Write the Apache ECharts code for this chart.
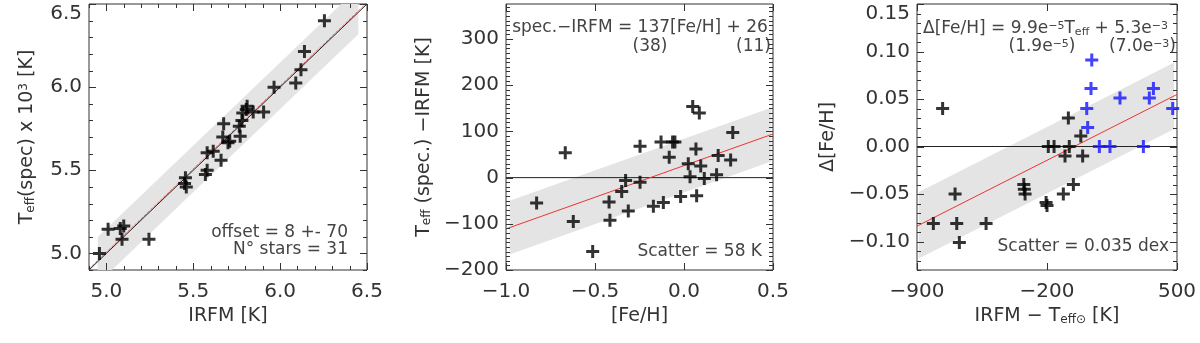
<!DOCTYPE html>
<html>
<head>
<meta charset="utf-8">
<script src="https://cdn.jsdelivr.net/npm/echarts@6/dist/echarts.min.js"></script>
<style>
  html, body { margin: 0; padding: 0; background: #fff; }
  #wrap { position: relative; width: 1200px; height: 343px; }
  .panel { position: absolute; top: 0; width: 400px; height: 343px; }
</style>
</head>
<body>
<div id="wrap">
  <div id="p1" class="panel" style="left:0px"></div>
  <div id="p2" class="panel" style="left:400px"></div>
  <div id="p3" class="panel" style="left:800px"></div>
</div>
<script>
// ---- panel 1 : spectroscopic vs IRFM temperature (10^3 K)
const p1Irfm = [4.96, 5.01, 5.08, 5.10, 5.09, 5.245, 5.455, 5.45, 5.46, 5.57, 5.58,
                5.58, 5.615, 5.66, 5.675, 5.67, 5.70, 5.71, 5.77, 5.765, 5.78, 5.785,
                5.805, 5.81, 5.845, 5.905, 5.965, 6.09, 6.12, 6.14, 6.255];
const p1Spec = [5.00, 5.145, 5.15, 5.165, 5.085, 5.085, 5.455, 5.42, 5.40, 5.475, 5.50,
                5.605, 5.615, 5.56, 5.78, 5.70, 5.665, 5.675, 5.705, 5.765, 5.80, 5.845,
                5.865, 5.885, 5.85, 5.85, 6.00, 6.025, 6.105, 6.215, 6.40];
const p1Ticks = [5.0, 5.5, 6.0, 6.5];
const p1Offset = 0.008;   // 8 K
const p1Band = 0.14;      // 2 x 70 K
const p1BandX = [4.95, 6.45];

// ---- panel 2 : (spec - IRFM) vs [Fe/H]
const p2FeH  = [-0.828, -0.667, -0.622, -0.513, -0.421, -0.416, -0.35, -0.328, -0.313,
                -0.247, -0.247, -0.172, -0.116, -0.129, -0.083, -0.064, -0.051, -0.019,
                0.024, 0.034, 0.049, 0.071, 0.067, 0.086, 0.094, 0.114, 0.183, 0.192,
                0.262, 0.274];
const p2Diff = [-55, 54, -95, -160, -53, -92, -30, -6, -72, 68, -10, -62, -54, 77, 44,
                77, 77, -41, 30, 2, 154, -39, 62, 140, 25, -2, 6, 48, 38, 98];
const p2XTicks = [-1.0, -0.5, 0.0, 0.5];
const p2YTicks = [-200, -100, 0, 100, 200, 300];
const p2Slope = 137, p2SlopeErr = 38, p2Icpt = 26, p2IcptErr = 11, p2Scatter = 58;

// ---- panel 3 : delta [Fe/H] vs IRFM - Teff(sun)
const p3DtBlack = [-762, -812, -695, -686, -672, -528, -325, -322, -318, -205, -200,
                   -193, -162, -112, -103, -85, -80, -58, -18, -8];
const p3DfBlack = [0.040, -0.081, -0.050, -0.081, -0.101, -0.081, -0.040, -0.045,
                   -0.050, -0.059, -0.062, 0.0, 0.0, -0.050, -0.010, 0.030, 0.0,
                   -0.040, 0.011, -0.010];
const p3DtBlue = [14, 19, 37, 41, 82, 139, 193, 319, 351, 373, 477];
const p3DfBlue = [0.040, 0.020, 0.061, 0.091, 0.0, 0.0, 0.051, 0.0, 0.051, 0.061, 0.040];
const p3XTicks = [-900, -200, 500];
const p3YTicks = [-0.10, -0.05, 0.00, 0.05, 0.10, 0.15];
const p3Slope = 9.9e-5, p3Icpt = 5.3e-3, p3Scatter = 0.035;

const FONT = 'DejaVu Sans';
const INK = '#333';
const SOFT = '#444';
const RED = '#ee3333';
const BAND = '#e4e4e4';
const PLUS = 'path://M5,0 H8 V5 H13 V8 H8 V13 H5 V8 H0 V5 H5 Z';
const MINUS = '\u2212';

function steps(a, b, s) {
    const out = [];
    for (let v = a; v <= b + s / 2; v += s) out.push(+v.toFixed(6));
    return out;
}

function signed(v, d) {
    const t = Math.abs(v).toFixed(d);
    return v < 0 ? MINUS + t : t;
}

const rich = {
    sub: { fontSize: 12, lineHeight: 10, verticalAlign: 'bottom', fontFamily: FONT },
    sup: { fontSize: 12, lineHeight: 10, verticalAlign: 'top', fontFamily: FONT }
};

/**
 * labelled axis (ticks are drawn by frameTicks)
 */
function labelAxis(dim, min, max, majors, fmt, name, nameGap, extra) {
    return {
        type: 'value', min: min, max: max,
        position: dim === 'x' ? 'bottom' : 'left',
        splitLine: { show: false },
        axisLine: { show: false, onZero: false },
        axisTick: { show: false },
        axisLabel: Object.assign({
            customValues: majors, formatter: fmt,
            fontFamily: FONT, fontSize: 20, color: INK,
            margin: dim === 'x' ? 12 : 7
        }, extra || {}),
        name: name, nameLocation: 'middle', nameGap: nameGap,
        nameTextStyle: { fontFamily: FONT, fontSize: 19, color: INK, rich: rich }
    };
}

/**
 * IDL-style inward ticks on all four sides, placed through the axis scales
 */
function frameTicks(xMajor, xMinor, yMajor, yMinor, yRef, xRef) {
    const MAJ = 7, MIN = 4;
    return {
        type: 'custom', clip: false, z: 8, silent: true,
        data: [[xRef, yRef]],
        renderItem: function (params, api) {
            const cs = params.coordSys;
            const top = cs.y, bot = cs.y + cs.height, lft = cs.x, rgt = cs.x + cs.width;
            const kids = [];
            const seg = (x1, y1, x2, y2) => kids.push({
                type: 'line',
                shape: { x1: x1, y1: y1, x2: x2, y2: y2 },
                style: { stroke: INK, lineWidth: 1 }
            });
            const vx = (vals, len) => vals.forEach(v => {
                const px = Math.round(api.coord([v, yRef])[0]) + 0.5;
                seg(px, bot, px, bot - len);
                seg(px, top, px, top + len);
            });
            const vy = (vals, len) => vals.forEach(v => {
                const py = Math.round(api.coord([xRef, v])[1]) + 0.5;
                seg(lft, py, lft + len, py);
                seg(rgt, py, rgt - len, py);
            });
            vx(xMinor, MIN); vx(xMajor, MAJ);
            vy(yMinor, MIN); vy(yMajor, MAJ);
            return { type: 'group', children: kids };
        }
    };
}

function bandSeries(x0, x1, f, half) {
    return {
        type: 'custom', clip: true, z: 1,
        data: [[x0, x1]],
        renderItem: function (params, api) {
            const pts = [
                api.coord([x0, f(x0) - half]), api.coord([x1, f(x1) - half]),
                api.coord([x1, f(x1) + half]), api.coord([x0, f(x0) + half])
            ];
            return { type: 'polygon', shape: { points: pts }, style: { fill: BAND } };
        }
    };
}

function lineSeries(xs, f, color, type) {
    return {
        type: 'line', z: 3, symbol: 'none', clip: true,
        data: xs.map(x => [x, f(x)]),
        lineStyle: { color: color, width: 1, type: type || 'solid' }
    };
}

function crossSeries(xs, ys, color) {
    return {
        type: 'scatter', z: 5, symbol: PLUS, symbolSize: 13, clip: true,
        itemStyle: { color: color },
        data: xs.map((x, i) => [x, ys[i]])
    };
}

function note(x, y, text, align) {
    return {
        type: 'text', x: x, y: y,
        style: {
            text: text, align: align, verticalAlign: 'middle',
            fontFamily: FONT, fontSize: 17, fill: SOFT,
            rich: {
                sub: { fontSize: 11, lineHeight: 8, verticalAlign: 'bottom', fontFamily: FONT },
                sup: { fontSize: 11, lineHeight: 8, verticalAlign: 'top', fontFamily: FONT }
            }
        }
    };
}

function makePanel(id, gridLeft, gridWidth, xAxis, yAxis, series, notes) {
    const chart = echarts.init(document.getElementById(id));
    chart.setOption({
        animation: false,
        grid: { left: gridLeft, top: 4, width: gridWidth, height: 266, show: true, borderColor: INK },
        xAxis: xAxis,
        yAxis: yAxis,
        series: series,
        graphic: notes
    });
    return chart;
}

const f1 = x => x + p1Offset;
const f2 = x => p2Slope * x + p2Icpt;
const f3 = x => p3Slope * x + p3Icpt;

// panel 1 (page x 0)
makePanel('p1', 89, 278,
    labelAxis('x', 4.9, 6.5, p1Ticks, v => v.toFixed(1), 'IRFM [K]', 37),
    labelAxis('y', 4.9, 6.5, p1Ticks, v => v.toFixed(1),
        'T{sub|eff}(spec) x 10{sup|3} [K]', 52, { verticalAlignMaxLabel: 'top' }),
    [
        bandSeries(p1BandX[0], p1BandX[1], f1, p1Band),
        lineSeries([4.9, 6.5], x => x, '#222'),
        lineSeries([4.9, 6.5], f1, RED, 'dotted'),
        crossSeries(p1Irfm, p1Spec, '#000'),
        frameTicks(p1Ticks, steps(4.9, 6.5, 0.1), p1Ticks, steps(4.9, 6.5, 0.1), 5.5, 5.5)
    ],
    [
        note(348, 233, 'offset = ' + p1Offset * 1000 + ' +- ' + p1Band * 500, 'right'),
        note(348, 250, 'N\u00b0 stars = ' + p1Irfm.length, 'right')
    ]
);

// panel 2 (page x 400)
makePanel('p2', 106, 267,
    labelAxis('x', -1.0, 0.5, p2XTicks, v => signed(v, 1), '[Fe/H]', 37),
    labelAxis('y', -200, 376, p2YTicks, v => signed(v, 0),
        'T{sub|eff} (spec.) ' + MINUS + 'IRFM [K]', 54),
    [
        bandSeries(-0.98, 0.49, f2, p2Scatter),
        lineSeries([-1.0, 0.5], () => 0, '#222'),
        lineSeries([-1.0, 0.5], f2, RED),
        crossSeries(p2FeH, p2Diff, '#000'),
        frameTicks(p2XTicks, [], p2YTicks, steps(-200, 370, 10), 0, 0)
    ],
    [
        note(240, 28, 'spec.' + MINUS + 'IRFM = ' + p2Slope + '[Fe/H] + ' + p2Icpt, 'center'),
        note(250, 47, '(' + p2SlopeErr + ')', 'center'),
        note(371, 47, '(' + p2IcptErr + ')', 'right'),
        note(362, 252, 'Scatter = ' + p2Scatter + ' K', 'right')
    ]
);

// panel 3 (page x 800)
makePanel('p3', 117, 260,
    labelAxis('x', -900, 500, p3XTicks, v => signed(v, 0),
        'IRFM ' + MINUS + ' T{sub|eff\u2299} [K]', 37),
    labelAxis('y', -0.13, 0.15, p3YTicks, v => signed(v, 2),
        '\u0394[Fe/H]', 66, { verticalAlignMaxLabel: 'top' }),
    [
        bandSeries(-890, 485, f3, p3Scatter),
        lineSeries([-900, 500], () => 0, '#222'),
        lineSeries([-900, 500], f3, RED),
        crossSeries(p3DtBlack, p3DfBlack, '#000'),
        crossSeries(p3DtBlue, p3DfBlue, '#1414ff'),
        frameTicks(p3XTicks, [], p3YTicks, steps(-0.13, 0.15, 0.01), 0, 0)
    ],
    [
        note(123, 29, '\u0394[Fe/H] = 9.9e{sup|' + MINUS + '5}T{sub|eff} + 5.3e{sup|' + MINUS + '3}', 'left'),
        note(242, 47, '(1.9e{sup|' + MINUS + '5})', 'center'),
        note(376, 47, '(7.0e{sup|' + MINUS + '3})', 'right'),
        note(369, 247, 'Scatter = ' + p3Scatter.toFixed(3) + ' dex', 'right')
    ]
);
</script>
</body>
</html>
